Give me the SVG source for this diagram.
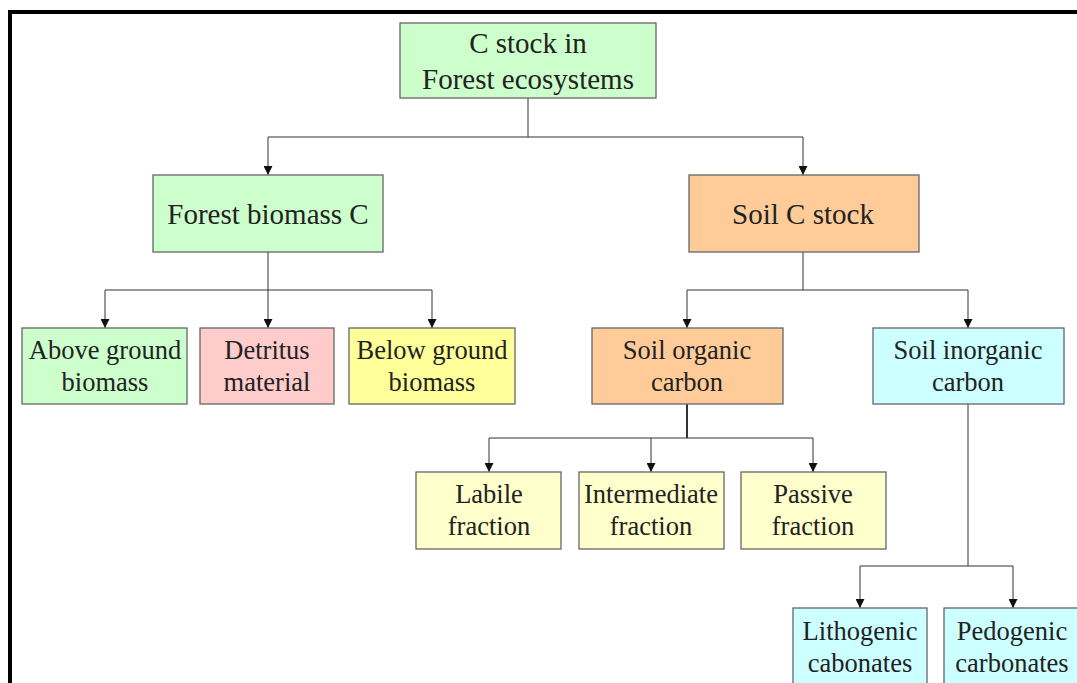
<svg xmlns="http://www.w3.org/2000/svg" width="1077" height="683" viewBox="0 0 1077 683">
<style>
.box{stroke:#666;stroke-width:1.3}
.t{font-family:"Liberation Serif",serif;fill:#222;text-anchor:middle}
.l{font-size:29px}
.s{font-size:26.5px}
.c{fill:none;stroke:#333;stroke-width:1}
.g{fill:#ccffcc}.p{fill:#ffcccc}.y{fill:#ffff99}.o{fill:#ffcc99}.cy{fill:#ccffff}.ly{fill:#ffffcc}
</style>
<defs>
<marker id="ah" viewBox="0 0 10 10" refX="10" refY="5" markerWidth="9" markerHeight="9" markerUnits="userSpaceOnUse" orient="auto">
<path d="M0,0 L10,5 L0,10 z" fill="#111"/>
</marker>
</defs>
<rect width="1077" height="683" fill="#fff"/>
<rect x="8" y="10" width="1069" height="4" fill="#000"/>
<rect x="8" y="10" width="4" height="673" fill="#000"/>
<g id="connectors">
<path class="c" d="M528,98 V137 M268,137 H803"/>
<path class="c" d="M268,137 V175" marker-end="url(#ah)"/>
<path class="c" d="M803,137 V175" marker-end="url(#ah)"/>
<path class="c" d="M268,252 V290 M105,290 H432"/>
<path class="c" d="M105,290 V328" marker-end="url(#ah)"/>
<path class="c" d="M268,290 V328" marker-end="url(#ah)"/>
<path class="c" d="M432,290 V328" marker-end="url(#ah)"/>
<path class="c" d="M803,252 V290 M687,290 H968"/>
<path class="c" d="M687,290 V328" marker-end="url(#ah)"/>
<path class="c" d="M968,290 V328" marker-end="url(#ah)"/>
<path class="c" style="stroke-width:2" d="M687,404 V438"/>
<path class="c" d="M489,438 H813"/>
<path class="c" d="M489,438 V472" marker-end="url(#ah)"/>
<path class="c" d="M651,438 V472" marker-end="url(#ah)"/>
<path class="c" d="M813,438 V472" marker-end="url(#ah)"/>
<path class="c" d="M968,404 V566 M860,566 H1013"/>
<path class="c" d="M860,566 V608" marker-end="url(#ah)"/>
<path class="c" d="M1013,566 V608" marker-end="url(#ah)"/>
</g>
<g id="n-root"><rect class="box g" x="400" y="23" width="256" height="75"/><text class="t l" x="528" y="53">C stock in</text><text class="t l" x="528" y="89">Forest ecosystems</text></g>
<g id="n-forest"><rect class="box g" x="153" y="175" width="230" height="77"/><text class="t l" x="268" y="224">Forest biomass C</text></g>
<g id="n-soil"><rect class="box o" x="689" y="175" width="230" height="77"/><text class="t l" x="803" y="224">Soil C stock</text></g>
<g id="n-above"><rect class="box g" x="22" y="328" width="165" height="76"/><text class="t s" x="105" y="359">Above ground</text><text class="t s" x="105" y="391">biomass</text></g>
<g id="n-detritus"><rect class="box p" x="200" y="328" width="134" height="76"/><text class="t s" x="267" y="359">Detritus</text><text class="t s" x="267" y="391">material</text></g>
<g id="n-below"><rect class="box y" x="349" y="328" width="166" height="76"/><text class="t s" x="432" y="359">Below ground</text><text class="t s" x="432" y="391">biomass</text></g>
<g id="n-soc"><rect class="box o" x="592" y="328" width="191" height="76"/><text class="t s" x="687" y="359">Soil organic</text><text class="t s" x="687" y="391">carbon</text></g>
<g id="n-sic"><rect class="box cy" x="873" y="328" width="191" height="76"/><text class="t s" x="968" y="359">Soil inorganic</text><text class="t s" x="968" y="391">carbon</text></g>
<g id="n-labile"><rect class="box ly" x="416" y="472" width="145" height="77"/><text class="t s" x="489" y="503">Labile</text><text class="t s" x="489" y="535">fraction</text></g>
<g id="n-inter"><rect class="box ly" x="579" y="472" width="145" height="77"/><text class="t s" x="651" y="503">Intermediate</text><text class="t s" x="651" y="535">fraction</text></g>
<g id="n-passive"><rect class="box ly" x="741" y="472" width="145" height="77"/><text class="t s" x="813" y="503">Passive</text><text class="t s" x="813" y="535">fraction</text></g>
<g id="n-litho"><rect class="box cy" x="793" y="608" width="134" height="90"/><text class="t s" x="860" y="640">Lithogenic</text><text class="t s" x="860" y="672">cabonates</text></g>
<g id="n-pedo"><rect class="box cy" x="944" y="608" width="140" height="90"/><text class="t s" x="1012" y="640">Pedogenic</text><text class="t s" x="1012" y="672">carbonates</text></g>
</svg>
